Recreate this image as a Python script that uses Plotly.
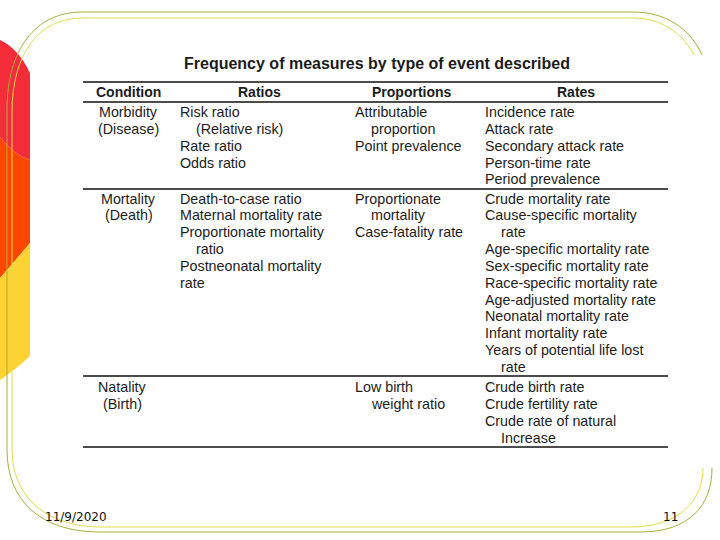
import plotly.graph_objects as go

# ---------------- data (text content of the slide table) ----------------
title_text = "Frequency of measures by type of event described"
headers = ["Condition", "Ratios", "Proportions", "Rates"]

conditions = [
    ["Morbidity", "(Disease)"],
    ["Mortality", "(Death)"],
    ["Natality", "(Birth)"],
]

# a leading "+" marks a wrapped/indented continuation line
ratios = [
    ["Risk ratio", "+(Relative risk)", "Rate ratio", "Odds ratio"],
    ["Death-to-case ratio", "Maternal mortality rate", "Proportionate mortality",
     "+ratio", "Postneonatal mortality", "rate"],
    [],
]

proportions = [
    ["Attributable", "+proportion", "Point prevalence"],
    ["Proportionate", "+mortality", "Case-fatality rate"],
    ["Low birth", "+weight ratio"],
]

rates = [
    ["Incidence rate", "Attack rate", "Secondary attack rate", "Person-time rate",
     "Period prevalence"],
    ["Crude mortality rate", "Cause-specific mortality", "+rate",
     "Age-specific mortality rate", "Sex-specific mortality rate",
     "Race-specific mortality rate", "Age-adjusted mortality rate",
     "Neonatal mortality rate", "Infant mortality rate",
     "Years of potential life lost", "+rate"],
    ["Crude birth rate", "Crude fertility rate", "Crude rate of natural", "+Increase"],
]

footer_date = "11/9/2020"
footer_page = "11"

# ---------------- layout constants ----------------
FONT = "Liberation Sans, Arial, sans-serif"
TXT = "#1c1c1c"
BODY = 14.3
LINE_H = 16.85
row_start = [112, 198.5, 387]
rule_y = [82, 102, 189, 376, 447]
table_x0, table_x1 = 83, 668
cond_x = [128, 128.5, 122]
col_left = [178, 353, 482.5]
indent = 16
header_x = [128, 259, 412, 576]

fig = go.Figure()
# invisible trace so the axes exist
fig.add_trace(go.Scatter(x=[0, 720], y=[0, 540], mode="markers",
                         marker=dict(opacity=0), hoverinfo="skip", showlegend=False))

shapes = []
# left colored band
shapes.append(dict(type="path", xref="x", yref="y", line=dict(width=0),
                   fillcolor="#F42C3A",
                   path="M 0 40 Q 18 48 30 73 L 30 160 Q 14 155 0 137 Z"))
shapes.append(dict(type="path", xref="x", yref="y", line=dict(width=0),
                   fillcolor="#FF4600",
                   path="M 0 137 Q 14 155 30 160 L 30 243 Q 14 262 0 278 Z"))
shapes.append(dict(type="path", xref="x", yref="y", line=dict(width=0),
                   fillcolor="#FDD232",
                   path="M 0 278 Q 14 262 30 243 L 30 356 Q 15 370 0 380 Z"))

# rounded frame lines
outer = ("M 702 55 C 690 28 665 12 633 12 L 82 12 C 35 12 7 50 7 110 "
         "L 7 450 C 7 500 40 532 100 532 L 640 532 C 690 532 712 505 712 468")
inner = ("M 694 55 C 682 32 660 18 633 18 L 82 18 C 38 18 12 55 12 112 "
         "L 12 450 C 12 495 45 527 100 527 L 630 527 C 680 527 703 500 703 468")
shapes.append(dict(type="path", xref="x", yref="y", path=outer,
                   line=dict(color="#A8AE3C", width=1)))
shapes.append(dict(type="path", xref="x", yref="y", path=inner,
                   line=dict(color="#E2DC4A", width=1)))

# table rules
for y in rule_y:
    shapes.append(dict(type="line", xref="x", yref="y", x0=table_x0, x1=table_x1,
                       y0=y, y1=y, line=dict(color="#111111", width=1.6)))

annotations = []


def add_text(x, y, text, size=BODY, bold=False, anchor="left", family=FONT, color=TXT):
    t = "<b>" + text + "</b>" if bold else text
    annotations.append(dict(x=x, y=y, xref="x", yref="y", text=t, showarrow=False,
                            xanchor=anchor, yanchor="middle",
                            font=dict(family=family, size=size, color=color)))


# title and headers
add_text(376.5, 63, title_text, size=16, bold=True, anchor="center")
for hx, h in zip(header_x, headers):
    add_text(hx, 92, h, size=14, bold=True, anchor="center")

# body
for r in range(3):
    for i, t in enumerate(conditions[r]):
        add_text(cond_x[r], row_start[r] + i * LINE_H, t, anchor="center")
    for c, col in enumerate([ratios, proportions, rates]):
        for i, t in enumerate(col[r]):
            x = col_left[c]
            if t.startswith("+"):
                t = t[1:]
                x += indent
            add_text(x, row_start[r] + i * LINE_H, t)

# footer
add_text(76, 517, footer_date, size=12, anchor="center", family="DejaVu Sans", color="#111111")
add_text(670, 517, footer_page, size=12, anchor="center", family="DejaVu Sans", color="#111111")

fig.update_layout(
    width=720, height=540, autosize=False,
    margin=dict(l=0, r=0, t=0, b=0, pad=0),
    paper_bgcolor="white", plot_bgcolor="white",
    xaxis=dict(range=[0, 720], visible=False, fixedrange=True),
    yaxis=dict(range=[540, 0], visible=False, fixedrange=True),
    shapes=shapes, annotations=annotations, showlegend=False,
)

fig.write_html("out.html", config=dict(displayModeBar=False),
               post_script="document.body.style.margin='0';")
